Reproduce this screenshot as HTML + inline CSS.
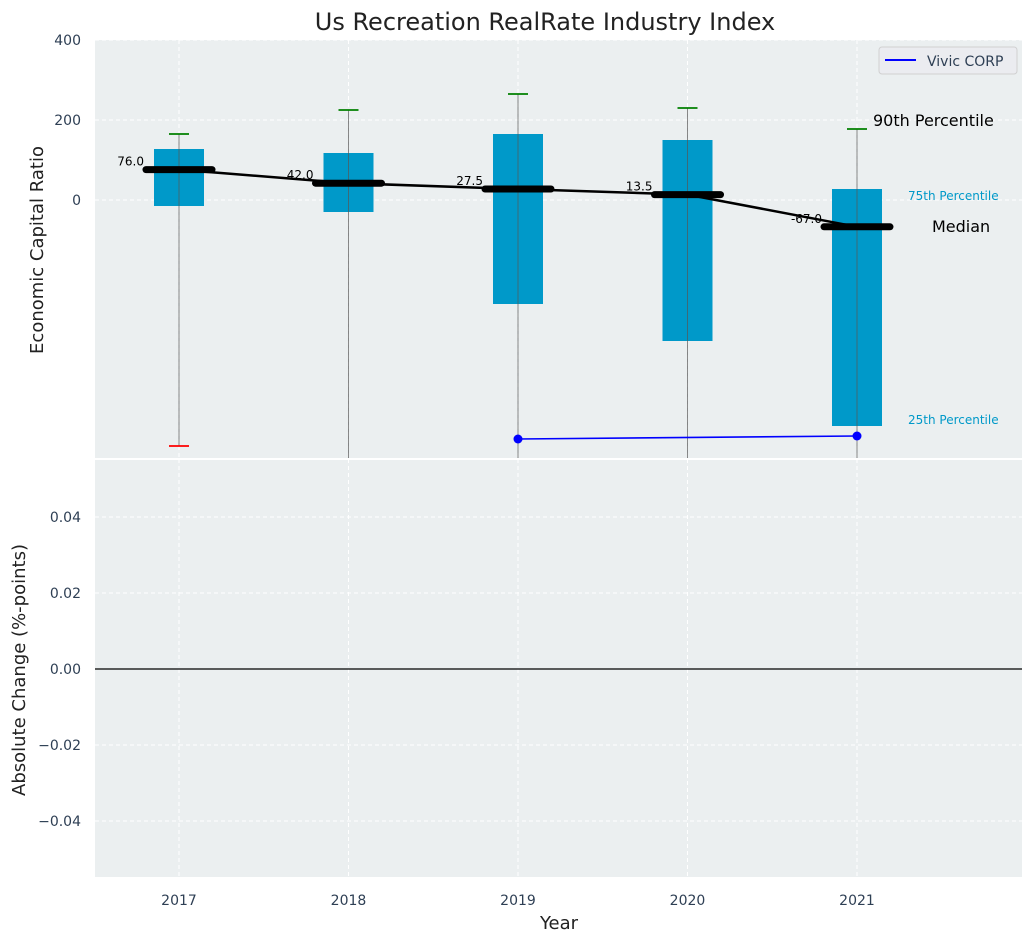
<!DOCTYPE html>
<html><head><meta charset="utf-8"><style>
body{margin:0;background:#fff;font-family:"Liberation Sans","DejaVu Sans",sans-serif}
svg text{font-family:"DejaVu Sans","Liberation Sans",sans-serif}
</style></head><body>
<svg id="c" width="1034" height="942" xmlns="http://www.w3.org/2000/svg"></svg>
<script>
const years=[2017,2018,2019,2020,2021];
const q75=[127.5,117.5,165,150,27.5];
const q25=[-15,-30,-260,-352.5,-565];
const medians=[76,42,27.5,13.5,-67];
const p90=[165,225,265,230,177.5];
const p10=[-615,-700,-700,-700,-700];
const vivicYears=[2019,2021];
const vivicVals=[-597.5,-590];
const topTicks=[400,200,0];
const botTicks=[0.04,0.02,0,-0.02,-0.04];

const svg=document.getElementById('c');
const NS='http://www.w3.org/2000/svg';
function el(tag,attrs,parent){const e=document.createElementNS(NS,tag);for(const k in attrs)e.setAttribute(k,attrs[k]);(parent||svg).appendChild(e);return e;}
const X0=95,X1=1022,T0=40,T1=459,B0=459,B1=877;
const x=v=>179+(v-2017)*169.5;
const yT=v=>200-v*0.4;
const yB=v=>669-v*3800;

// backgrounds
let r=el('rect',{x:X0,y:T0,width:X1-X0,height:T1-T0,fill:'#ebeff0'});

r=el('rect',{x:X0,y:B0+1,width:X1-X0,height:B1-B0-1,fill:'#ebeff0'});


const tg=el('g',{});
el('clipPath',{id:'ct'}).appendChild(Object.assign(document.createElementNS(NS,'rect'),{}));
document.querySelector('#ct rect').setAttribute('x',X0);document.querySelector('#ct rect').setAttribute('y',T0);
document.querySelector('#ct rect').setAttribute('width',X1-X0);document.querySelector('#ct rect').setAttribute('height',T1-T0);
tg.setAttribute('clip-path','url(#ct)');

// grid
years.forEach(yv=>{
  el('line',{x1:x(yv),x2:x(yv),y1:T0,y2:T1,stroke:'#fff','stroke-dasharray':'4,3','stroke-width':1},tg);
  el('line',{x1:x(yv),x2:x(yv),y1:B0,y2:B1,stroke:'#fff','stroke-dasharray':'4,3','stroke-width':1});
});
topTicks.forEach(t=>{
  el('line',{x1:X0,x2:X1,y1:yT(t),y2:yT(t),stroke:'#fff','stroke-dasharray':'4,3'},tg);
  const tx=el('text',{x:81,y:yT(t)+5,'text-anchor':'end','font-size':14,fill:'#2e3f54'});tx.textContent=t;
  
});
botTicks.forEach(t=>{
  el('line',{x1:X0,x2:X1,y1:yB(t),y2:yB(t),stroke:'#fff','stroke-dasharray':'4,3'});
  const tx=el('text',{x:81,y:yB(t)+5,'text-anchor':'end','font-size':14,fill:'#2e3f54'});tx.textContent=(t<0?'\u22120.':t>0?'0.':'0.')+Math.abs(t).toFixed(2).slice(2);
  
});
el('line',{x1:X0,x2:X1,y1:yB(0),y2:yB(0),stroke:'#000','stroke-width':1.2});
el('line',{x1:X0,x2:X1,y1:459,y2:459,stroke:'#fff','stroke-width':2});

// boxes
years.forEach((yv,i)=>{
  const b=el('rect',{x:x(yv)-25,y:yT(q75[i]),width:50,height:yT(q25[i])-yT(q75[i]),fill:'#0099c9'},tg);
  
  const w=el('line',{x1:x(yv),x2:x(yv),y1:yT(p90[i]),y2:yT(p10[i]),stroke:'#555','stroke-opacity':0.7,'stroke-width':1},tg);
  
  el('line',{x1:x(yv)-10,x2:x(yv)+10,y1:yT(p90[i]),y2:yT(p90[i]),stroke:'green','stroke-width':1.8},tg);
  if(yT(p10[i])<T1) el('line',{x1:x(yv)-10,x2:x(yv)+10,y1:yT(p10[i]),y2:yT(p10[i]),stroke:'red','stroke-width':1.8},tg);
});
// median line
const ml=el('polyline',{points:years.map((yv,i)=>x(yv)+','+yT(medians[i])).join(' '),fill:'none',stroke:'#000','stroke-width':2.5},tg);

years.forEach((yv,i)=>{
  const m=el('line',{x1:x(yv)-33,x2:x(yv)+33,y1:yT(medians[i]),y2:yT(medians[i]),stroke:'#000','stroke-width':7,'stroke-linecap':'round'},tg);
  
  const t=el('text',{x:x(yv)-35,y:yT(medians[i])-4,'text-anchor':'end','font-size':12,fill:'#000'});t.textContent=medians[i].toFixed(1);
  
});
// vivic
const vl=el('polyline',{points:vivicYears.map((yv,i)=>x(yv)+','+yT(vivicVals[i])).join(' '),fill:'none',stroke:'blue','stroke-width':1.6},tg);

vivicYears.forEach((yv,i)=>{const c=el('circle',{cx:x(yv),cy:yT(vivicVals[i]),r:4.5,fill:'blue'},tg);
 });

// annotations
function txt(s,a,name){const t=el('text',a);t.textContent=s;return t;}
txt('90th Percentile',{x:873,y:126,'font-size':16,fill:'#000'},'p90-annotation');
txt('75th Percentile',{x:908,y:200,'font-size':12,fill:'#0099c9'},'p75-annotation');
txt('Median',{x:932,y:232,'font-size':16,fill:'#000'},'median-annotation');
txt('25th Percentile',{x:908,y:424,'font-size':12,fill:'#0099c9'},'p25-annotation');

// legend
const lg=el('g',{});
el('rect',{x:879,y:47,width:138,height:27,rx:3,fill:'#ebecf0',stroke:'#d0d0d0'},lg);
el('line',{x1:885,x2:916,y1:60,y2:60,stroke:'blue','stroke-width':2},lg);
const lt=el('text',{x:927,y:66,'font-size':14,fill:'#2e3f54'},lg);lt.textContent='Vivic CORP';

// x ticks
years.forEach(yv=>txt(String(yv),{x:x(yv),y:905,'text-anchor':'middle','font-size':14,fill:'#2e3f54'},'x-tick-label'));
txt('Year',{x:559,y:929,'text-anchor':'middle','font-size':18,fill:'#222'},'x-axis-title');
txt('Us Recreation RealRate Industry Index',{x:545,y:30,'text-anchor':'middle','font-size':24,fill:'#222'},'chart-title');
txt('Economic Capital Ratio',{x:0,y:0,'text-anchor':'middle','font-size':18,fill:'#222',transform:'translate(43,250) rotate(-90)'},'y-axis-title-top');
txt('Absolute Change (%-points)',{x:0,y:0,'text-anchor':'middle','font-size':18,fill:'#222',transform:'translate(25,670) rotate(-90)'},'y-axis-title-bottom');
</script>
</body></html>
